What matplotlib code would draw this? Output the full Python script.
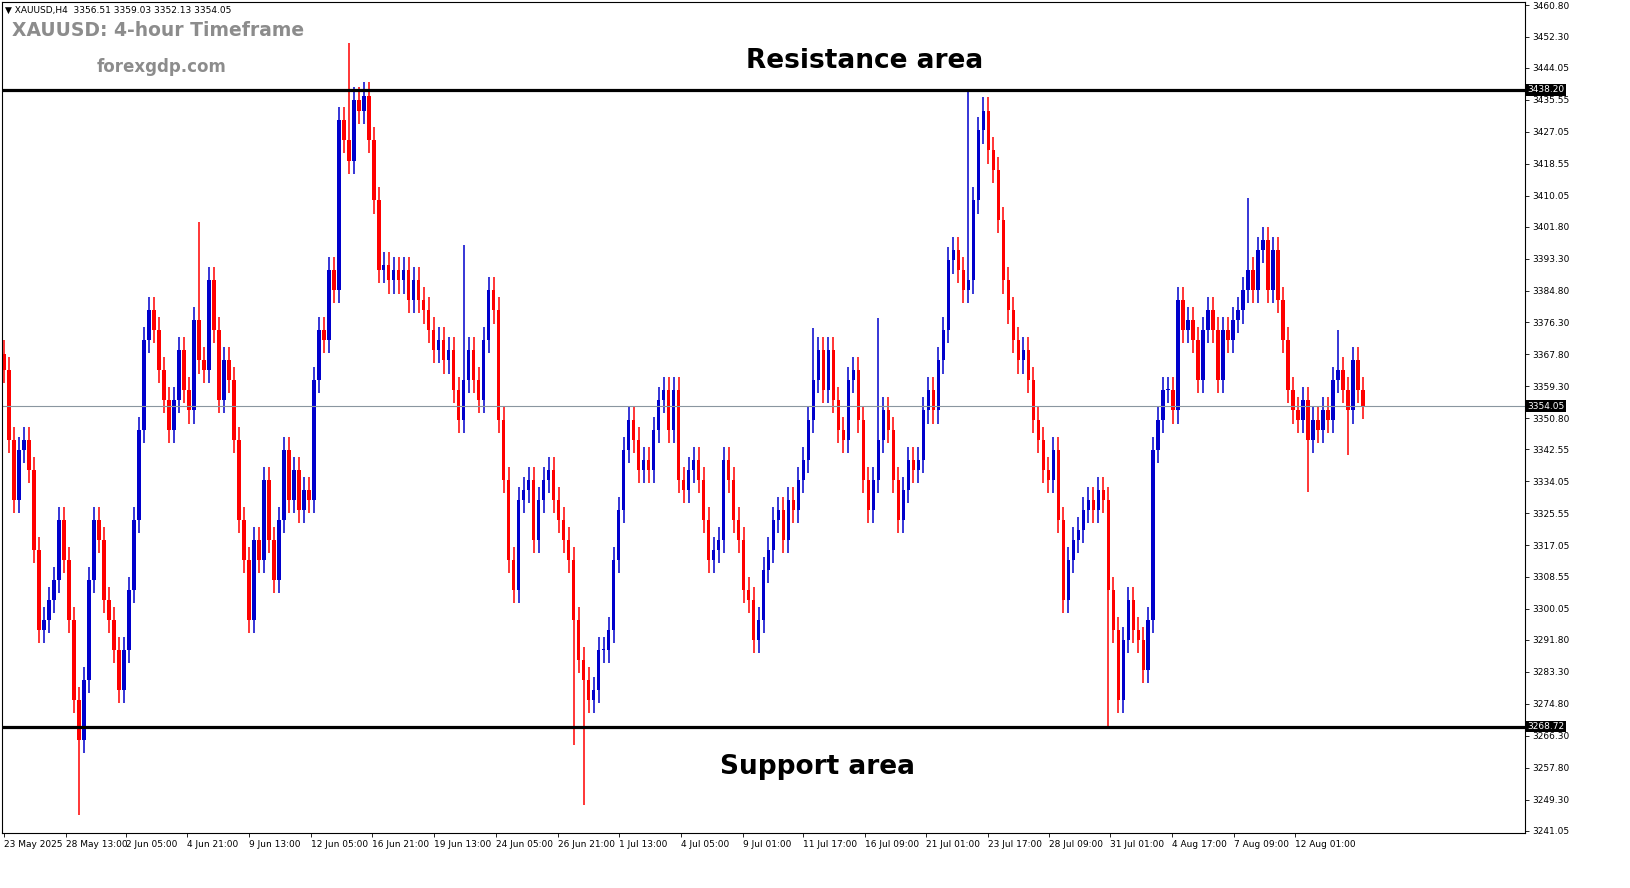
import matplotlib
matplotlib.use("Agg")
import matplotlib.pyplot as plt
import numpy as np

closes = [3363.6,3345.0,3329.0,3342.3,3345.0,3337.0,3315.7,3294.4,3297.1,3302.4,3307.7,3323.7,3313.0,3297.1,3275.8,3265.2,3281.1,3307.7,3323.7,3318.4,
3302.4,3297.1,3289.1,3278.5,3289.1,3305.1,3323.7,3347.6,3371.6,3379.5,3374.2,3363.6,3355.6,3347.6,3355.6,3368.9,3358.3,3352.9,3376.9,3366.2,
3363.6,3387.5,3374.2,3355.6,3366.2,3360.9,3345.0,3323.7,3313.0,3297.1,3318.4,3313.0,3334.3,3318.4,3307.7,3323.7,3342.3,3329.0,3337.0,3326.3,
3331.7,3329.0,3360.9,3374.2,3371.6,3390.2,3384.9,3430.1,3424.8,3419.4,3435.4,3432.7,3436.7,3424.8,3408.8,3390.2,3391.5,3387.5,3390.2,3387.5,
3390.2,3382.2,3387.5,3382.2,3379.5,3374.2,3368.9,3371.6,3366.2,3368.9,3358.3,3350.3,3360.9,3368.9,3360.9,3355.6,3371.6,3384.9,3379.5,3350.3,
3334.3,3313.0,3305.1,3329.0,3331.7,3334.3,3318.4,3329.0,3334.3,3337.0,3329.0,3323.7,3318.4,3313.0,3297.1,3286.4,3281.1,3275.8,3278.5,3289.1,
3289.1,3294.4,3313.0,3326.3,3342.3,3350.3,3345.0,3337.0,3339.6,3337.0,3347.6,3355.6,3358.3,3347.6,3358.3,3334.3,3331.7,3337.0,3339.6,3334.3,
3323.7,3313.0,3315.7,3318.4,3339.6,3334.3,3323.7,3318.4,3305.1,3302.4,3291.8,3297.1,3310.4,3315.7,3323.7,3326.3,3318.4,3329.0,3326.3,3334.3,
3339.6,3350.3,3360.9,3368.9,3358.3,3368.9,3355.6,3347.6,3345.0,3360.9,3363.6,3350.3,3334.3,3326.3,3334.3,3345.0,3352.9,3347.6,3334.3,3323.7,
3331.7,3339.6,3337.0,3339.6,3352.9,3358.3,3352.9,3366.2,3374.2,3392.8,3395.5,3390.2,3384.9,3387.5,3408.8,3427.4,3432.7,3422.1,3416.8,3403.5,
3387.5,3379.5,3371.6,3366.2,3368.9,3360.9,3350.3,3345.0,3337.0,3334.3,3342.3,3323.7,3302.4,3313.0,3318.4,3321.0,3326.3,3329.0,3326.3,3331.7,
3329.0,3305.1,3294.4,3275.8,3291.8,3302.4,3294.4,3291.8,3283.8,3297.1,3342.3,3350.3,3358.3,3358.3,3352.9,3382.2,3374.2,3376.9,3371.6,3360.9,
3374.2,3379.5,3374.2,3360.9,3374.2,3371.6,3376.9,3379.5,3384.9,3390.2,3384.9,3395.5,3398.2,3384.9,3395.5,3382.2,3371.6,3358.3,3352.9,3350.3,
3355.6,3345.0,3350.3,3347.6,3352.9,3350.3,3360.9,3363.6,3358.3,3352.9,3366.2,3358.3,3354.05]
first_open = 3368.0
high_marks = {69: 3450.8, 39: 3403.0, 193: 3438.2, 249: 3409.3, 92: 3396.8, 175: 3377.4, 162: 3374.8, 267: 3374.2, 14: 3290.0}
low_marks = {15: 3245.2, 114: 3263.8, 116: 3247.9, 221: 3268.4, 261: 3331.1, 269: 3341.0}
resistance = 3438.20
support = 3268.72
last_price = 3354.05
yticks = [3241.05,3249.30,3257.80,3266.30,3274.80,3283.30,3291.80,3300.05,3308.55,3317.05,3325.55,3334.05,3342.55,
          3350.80,3359.30,3367.80,3376.30,3384.80,3393.30,3401.80,3410.05,3418.55,3427.05,3435.55,3444.05,3452.30,3460.80]
xlabels = ["23 May 2025","28 May 13:00","2 Jun 05:00","4 Jun 21:00","9 Jun 13:00","12 Jun 05:00","16 Jun 21:00",
           "19 Jun 13:00","24 Jun 05:00","26 Jun 21:00","1 Jul 13:00","4 Jul 05:00","9 Jul 01:00","11 Jul 17:00",
           "16 Jul 09:00","21 Jul 01:00","23 Jul 17:00","28 Jul 09:00","31 Jul 01:00","4 Aug 17:00","7 Aug 09:00","12 Aug 01:00"]
xlabel_idx = [0,12.4,24.4,36.6,49,61.4,73.6,86,98.4,110.8,123,135.4,147.8,160,172.4,184.6,197,209.2,221.4,233.8,246.2,258.4]

n = len(closes)
opens = [first_open] + closes[:-1]
highs = [max(o, c) + 3.5 for o, c in zip(opens, closes)]
lows = [min(o, c) - 3.5 for o, c in zip(opens, closes)]
for k, v in high_marks.items(): highs[k] = max(highs[k], v)
for k, v in low_marks.items(): lows[k] = min(lows[k], v)

fig = plt.figure(figsize=(16.31, 8.88), dpi=100)
ax = fig.add_axes([2/1631, 55/888, 1523/1631, 831/888])
x = np.arange(n)
cols = ['#0000cc' if c >= o else '#ff0000' for o, c in zip(opens, closes)]
ax.vlines(x, lows, highs, colors=cols, lw=1.1)
bottoms = [min(o, c) for o, c in zip(opens, closes)]
heights = [max(abs(c - o), 0.4) for o, c in zip(opens, closes)]
ax.bar(x, heights, bottom=bottoms, width=0.7, color=cols, linewidth=0)

ax.axhline(resistance, color='black', lw=2.3)
ax.axhline(support, color='black', lw=2.3)
ax.axhline(last_price, color='#8a96a0', lw=0.8)

ax.set_xlim(-0.4, 304.4)
ax.set_ylim(3240.4, 3461.6)
ax.yaxis.tick_right()
ax.set_yticks(yticks)
ax.set_yticklabels([f"{v:.2f}" for v in yticks], fontsize=6.5)
ax.set_xticks(xlabel_idx)
ax.set_xticklabels(xlabels, fontsize=6.5, ha='left')
ax.tick_params(length=3, width=0.6, pad=2)
for s in ax.spines.values():
    s.set_linewidth(0.8)

for val in (resistance, last_price, support):
    ax.annotate(f"{val:.2f}", xy=(1.0, val), xycoords=('axes fraction', 'data'), xytext=(2, 0),
                textcoords='offset points', fontsize=6.5, color='white', va='center', ha='left',
                bbox=dict(boxstyle='square,pad=0.15', fc='black', ec='none'))

fig.text(5/1631, 1 - 10/888, "▼ XAUUSD,H4  3356.51 3359.03 3352.13 3354.05", fontsize=6.5, va='center')
fig.text(12/1631, 1 - 31/888, "XAUUSD: 4-hour Timeframe", fontsize=13.5, fontweight='bold', color='#8c8c8c', va='center')
fig.text(97/1631, 1 - 67/888, "forexgdp.com", fontsize=12, fontweight='bold', color='#8c8c8c', va='center')
fig.text(865/1631, 1 - 61/888, "Resistance area", fontsize=19, fontweight='bold', ha='center', va='center')
fig.text(818/1631, 1 - 767/888, "Support area", fontsize=19, fontweight='bold', ha='center', va='center')
fig.savefig("out.png", dpi=100)
